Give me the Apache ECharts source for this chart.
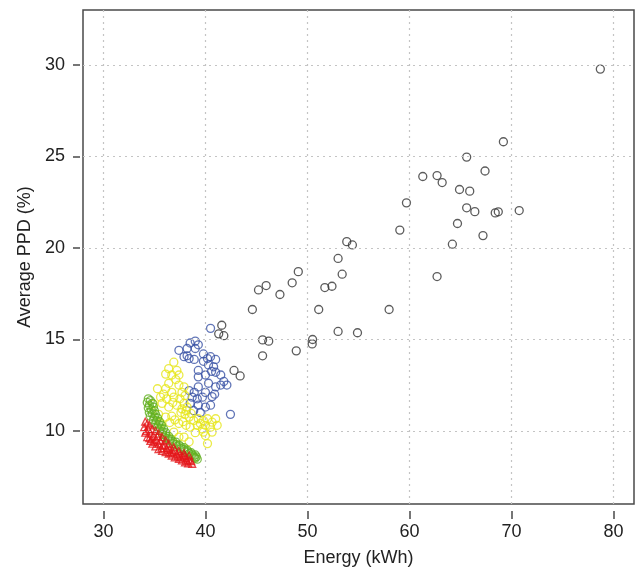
<!DOCTYPE html>
<html>
<head>
<meta charset="utf-8">
<script src="https://cdn.jsdelivr.net/npm/echarts@6/dist/echarts.min.js"></script>
<style>
html,body{margin:0;padding:0;background:#fff;}
#chart{width:637px;height:573px;}
</style>
</head>
<body>
<div id="chart"></div>
<script>
// Tick labels
const xTicks = [30, 40, 50, 60, 70, 80];
const yTicks = [10, 15, 20, 25, 30];

// Series values [Energy (kWh), Average PPD (%)]
const blackPts = [[78.7,29.77],[69.2,25.8],[65.6,24.96],[67.4,24.2],[61.3,23.9],[62.7,23.95],[63.2,23.57],[64.9,23.19],[65.9,23.1],[59.7,22.46],[65.6,22.19],[66.4,21.98],[68.4,21.91],[68.7,21.97],[70.75,22.04],[64.7,21.33],[59.05,20.97],[67.2,20.67],[64.2,20.2],[53.85,20.34],[54.4,20.16],[53.0,19.42],[49.1,18.7],[53.4,18.56],[48.5,18.09],[45.95,17.94],[45.2,17.7],[47.3,17.45],[51.7,17.83],[52.4,17.9],[62.7,18.43],[44.6,16.63],[51.1,16.63],[58.0,16.63],[53.0,15.43],[54.9,15.36],[45.6,14.97],[46.2,14.9],[50.5,14.99],[50.46,14.75],[48.9,14.37],[45.6,14.1],[41.6,15.77],[41.3,15.3],[41.8,15.2],[42.8,13.3],[43.4,13.0]];

const bluePts = [[39.0,14.9],[38.5,14.8],[38.2,14.5],[39.0,14.5],[39.3,14.7],[37.9,14.05],[38.4,13.95],[38.9,13.9],[39.8,14.2],[40.2,13.95],[40.5,14.05],[41.0,13.9],[39.8,13.8],[40.3,13.6],[40.8,13.5],[41.0,13.2],[39.3,12.95],[40.0,13.05],[41.5,13.05],[41.8,12.7],[40.3,12.6],[39.3,12.4],[41.0,12.4],[38.4,12.2],[38.9,12.1],[40.0,12.1],[37.4,14.4],[40.5,15.6],[38.7,11.84],[39.2,11.75],[39.7,11.84],[40.65,11.87],[38.5,11.5],[39.3,11.4],[40.0,11.3],[38.85,11.1],[39.5,11.0],[42.45,10.9],[40.5,11.4],[39.3,13.3],[42.1,12.5],[41.5,12.5],[40.9,12.0],[38.2,14.1],[40.6,13.25]];

const yellowPts = [[36.9,13.75],[36.4,13.4],[37.2,13.3],[36.1,13.1],[36.7,13.05],[37.4,13.05],[37.1,12.8],[36.4,12.6],[37.4,12.5],[35.3,12.3],[36.1,12.3],[36.7,12.1],[37.7,12.1],[35.6,11.84],[36.2,11.75],[36.9,11.84],[37.5,11.75],[38.0,11.93],[35.75,11.5],[36.4,11.3],[37.2,11.4],[37.7,11.2],[38.0,10.9],[38.4,10.75],[38.85,10.56],[39.3,10.66],[39.8,10.56],[40.2,10.66],[40.65,10.47],[41.0,10.66],[41.15,10.3],[40.5,10.2],[39.7,10.1],[39.2,10.3],[38.5,10.2],[40.0,9.74],[40.2,9.3],[39.8,9.93],[40.65,9.93],[36.7,10.8],[36.1,10.75],[35.6,10.4],[37.9,9.66],[38.4,9.4],[37.4,10.4],[34.9,11.46],[35.9,12.0],[37.9,12.4],[37.9,11.5],[38.2,11.3],[38.1,11.1],[38.6,10.95],[37.0,10.6],[37.8,10.5],[38.1,10.3],[36.9,9.93],[37.4,9.66],[39.0,9.9],[39.5,10.4],[40.0,10.3],[35.4,10.9],[36.5,10.45],[37.6,11.0],[36.8,11.55]];

const greenPts = [[34.4,11.75],[34.6,11.65],[34.3,11.55],[34.8,11.5],[34.5,11.4],[34.9,11.3],[34.4,11.25],[34.7,11.15],[35.0,11.1],[34.5,11.0],[34.8,10.95],[35.1,10.9],[34.6,10.8],[35.0,10.75],[35.3,10.7],[34.9,10.6],[35.2,10.55],[35.5,10.5],[35.1,10.4],[35.4,10.35],[35.7,10.3],[35.3,10.2],[35.6,10.15],[35.9,10.1],[35.5,10.0],[35.8,9.95],[36.1,9.9],[35.8,9.8],[36.1,9.75],[36.4,9.7],[36.0,9.62],[36.3,9.58],[36.6,9.55],[36.5,9.45],[36.8,9.42],[37.1,9.38],[36.8,9.3],[37.1,9.25],[37.4,9.22],[37.2,9.15],[37.6,9.12],[37.9,9.08],[37.6,9.02],[37.9,8.98],[38.2,8.95],[38.0,8.88],[38.3,8.85],[38.6,8.8],[38.4,8.75],[38.7,8.7],[39.0,8.68],[38.8,8.62],[39.1,8.58],[39.0,8.5],[39.2,8.45],[38.9,8.55]];

const redPts = [[34.1,10.5],[34.0,10.2],[34.1,9.9],[34.3,9.66],[34.6,9.45],[34.8,9.3],[35.1,9.15],[35.4,9.0],[35.75,8.9],[36.1,8.84],[36.4,8.75],[36.7,8.65],[37.0,8.55],[37.4,8.47],[37.7,8.38],[38.0,8.28],[38.3,8.22],[38.7,8.2],[34.5,10.3],[34.8,10.1],[35.1,10.0],[35.4,9.85],[35.75,9.66],[36.1,9.48],[36.4,9.3],[36.9,9.1],[37.4,8.9],[37.9,8.78],[38.4,8.65],[34.3,10.4],[34.4,10.1],[34.6,9.85],[34.5,9.6],[34.9,9.7],[35.2,9.5],[35.0,9.4],[35.4,9.3],[35.6,9.45],[35.8,9.2],[35.7,9.05],[36.0,9.2],[36.2,9.05],[36.5,9.0],[36.8,8.85],[37.0,8.95],[37.2,8.75],[37.5,8.7],[37.8,8.6],[38.1,8.5],[38.4,8.4],[38.6,8.35],[38.0,8.65],[37.6,8.55],[34.2,10.0],[34.7,9.55],[35.3,9.7],[36.3,8.95],[36.6,8.8],[37.3,8.6],[38.2,8.35]];

const chart = echarts.init(document.getElementById('chart'), null, {renderer: 'canvas'});
const FONT = 'Liberation Sans, Arial, Helvetica, sans-serif';
const gridColor = '#c4c4c4';
const axisColor = '#4a4a4a';

function pts(data, color, symbol, size) {
  return {
    type: 'scatter',
    data: data,
    symbol: symbol || 'circle',
    symbolSize: size || 8,
    z: 3,
    itemStyle: {color: 'rgba(0,0,0,0)', borderColor: color, borderWidth: 1.3},
    emphasis: {disabled: true},
    silent: true
  };
}

const gridLines = xTicks.map(v => ({xAxis: v})).concat(yTicks.map(v => ({yAxis: v})));

const option = {
  animation: false,
  backgroundColor: '#fff',
  grid: {left: 83, right: 3, top: 10, bottom: 69, show: true, borderColor: axisColor, borderWidth: 1.5, backgroundColor: 'transparent'},
  xAxis: {
    type: 'value', min: 28, max: 82, offset: 7,
    name: 'Energy (kWh)', nameLocation: 'middle', nameGap: 38,
    nameTextStyle: {fontFamily: FONT, fontSize: 18, color: '#222'},
    axisLine: {show: false},
    axisTick: {show: true, length: 8, customValues: xTicks, lineStyle: {color: axisColor, width: 1.5}},
    axisLabel: {customValues: xTicks, fontFamily: FONT, fontSize: 18, color: '#222', margin: 12},
    splitLine: {show: false}
  },
  yAxis: {
    type: 'value', min: 6, max: 33, offset: 3,
    name: 'Average PPD (%)', nameLocation: 'middle', nameGap: 44, nameRotate: 90,
    nameTextStyle: {fontFamily: FONT, fontSize: 18, color: '#222'},
    axisLine: {show: false},
    axisTick: {show: true, length: 7, customValues: yTicks, lineStyle: {color: axisColor, width: 1.5}},
    axisLabel: {customValues: yTicks, fontFamily: FONT, fontSize: 18, color: '#222', margin: 15},
    splitLine: {show: false}
  },
  series: [
    {
      type: 'scatter', data: [], z: 1, silent: true,
      markLine: {
        silent: true, symbol: 'none', animation: false,
        label: {show: false},
        lineStyle: {color: gridColor, type: [2, 4], width: 1.2},
        data: gridLines
      }
    },
    pts(blackPts, '#333333'),
    pts(bluePts, '#3a52a5'),
    pts(yellowPts, '#e6e619'),
    pts(greenPts, '#62b021'),
    pts(redPts, '#e3161a', 'triangle', 7)
  ]
};
chart.setOption(option);
</script>
</body>
</html>
